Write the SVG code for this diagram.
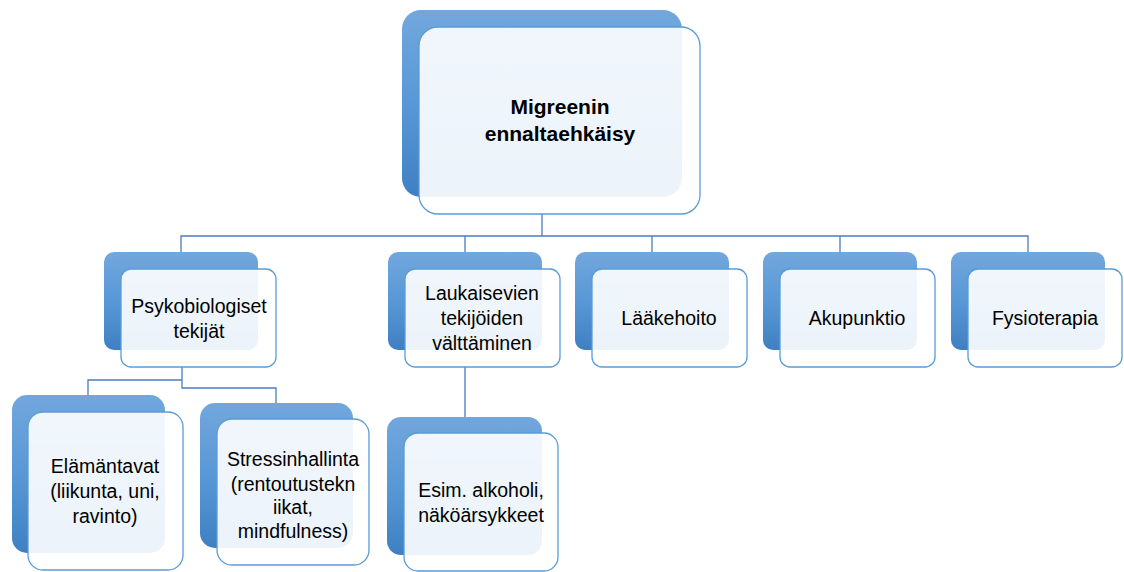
<svg xmlns="http://www.w3.org/2000/svg" width="1124" height="572" viewBox="0 0 1124 572">
<defs>
<linearGradient id="bg" x1="0" y1="0" x2="0" y2="1">
<stop offset="0" stop-color="#72a7dd"/>
<stop offset="0.5" stop-color="#5898d6"/>
<stop offset="1" stop-color="#3f80c3"/>
</linearGradient>
</defs>
<style>
.back{fill:url(#bg);stroke:none}
.front{fill:#ffffff;fill-opacity:0.9;stroke:#5b9bd5;stroke-width:1.3}
.conn{fill:none;stroke:#4a7ebb;stroke-width:1.3}
text{font-family:"Liberation Sans",Arial,sans-serif;font-size:19.5px;fill:#000;text-anchor:middle}
.title{font-weight:bold;font-size:21px}
</style>
<rect width="1124" height="572" fill="#ffffff"/>
<g id="connectors">
<path class="conn" d="M542 214 V236 M181 252 V236 H1028 V252 M465 236 V252 M652 236 V252 M840 236 V252"/>
<path class="conn" d="M182 367 V388 H276 V403 M182 380 H88 V395"/>
<path class="conn" d="M465 367 V417"/>
</g>
<g id="n-top">
<rect class="back" x="402" y="10" width="280" height="187" rx="19"/>
<rect class="front" x="419" y="27" width="281" height="187" rx="19"/>
<text class="title" x="560" y="114">Migreenin</text>
<text class="title" x="560" y="141">ennaltaehkäisy</text>
</g>
<g id="n-psyko">
<rect class="back" x="104" y="252" width="154" height="98" rx="10"/>
<rect class="front" x="121" y="269" width="155" height="98" rx="10"/>
<text x="199" y="313">Psykobiologiset</text>
<text x="199" y="338">tekijät</text>
</g>
<g id="n-lauk">
<rect class="back" x="388" y="252" width="154" height="98" rx="10"/>
<rect class="front" x="405" y="269" width="155" height="98" rx="10"/>
<text x="482" y="300">Laukaisevien</text>
<text x="482" y="325">tekijöiden</text>
<text x="482" y="350">välttäminen</text>
</g>
<g id="n-laake">
<rect class="back" x="575" y="252" width="154" height="98" rx="10"/>
<rect class="front" x="592" y="269" width="155" height="98" rx="10"/>
<text x="669" y="325">Lääkehoito</text>
</g>
<g id="n-aku">
<rect class="back" x="763" y="252" width="154" height="98" rx="10"/>
<rect class="front" x="780" y="269" width="155" height="98" rx="10"/>
<text x="857" y="325">Akupunktio</text>
</g>
<g id="n-fysio">
<rect class="back" x="951" y="252" width="154" height="98" rx="10"/>
<rect class="front" x="968" y="269" width="154" height="98" rx="10"/>
<text x="1045" y="325">Fysioterapia</text>
</g>
<g id="n-elam">
<rect class="back" x="12" y="395" width="153" height="158" rx="15"/>
<rect class="front" x="28" y="412" width="155" height="158" rx="15"/>
<text x="105" y="473">Elämäntavat</text>
<text x="105" y="498">(liikunta, uni,</text>
<text x="105" y="523">ravinto)</text>
</g>
<g id="n-stress">
<rect class="back" x="200" y="403" width="153" height="145" rx="15"/>
<rect class="front" x="217" y="419" width="152" height="146" rx="15"/>
<text x="293" y="466">Stressinhallinta</text>
<text x="293" y="491">(rentoutustekn</text>
<text x="293" y="514">iikat,</text>
<text x="293" y="538">mindfulness)</text>
</g>
<g id="n-esim">
<rect class="back" x="387" y="417" width="155" height="138" rx="14"/>
<rect class="front" x="404" y="433" width="154" height="138" rx="14"/>
<text x="481" y="497">Esim. alkoholi,</text>
<text x="481" y="522">näköärsykkeet</text>
</g>
</svg>
